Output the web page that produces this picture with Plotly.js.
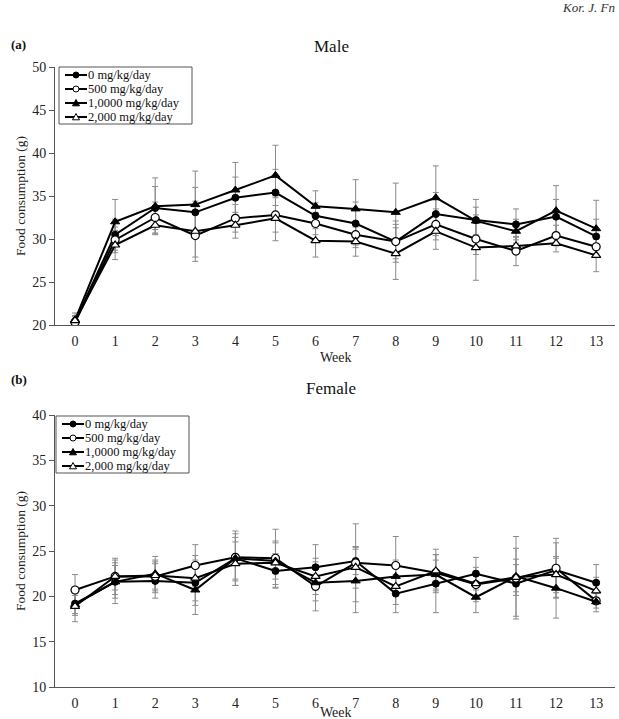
<!DOCTYPE html>
<html>
<head>
<meta charset="utf-8">
<script src="https://cdn.plot.ly/plotly-3.0.1.min.js"></script>
<style>
  html, body { margin: 0; padding: 0; background: #fff; }
  #chart { width: 619px; height: 719px; }
</style>
</head>
<body>
<div id="chart"></div>
<script>
// Weekly food consumption (g), mean ± SD, by dose group
const weeks = [0, 1, 2, 3, 4, 5, 6, 7, 8, 9, 10, 11, 12, 13];
const doseLabels = ['0 mg/kg/day', '500 mg/kg/day', '1,0000 mg/kg/day', '2,000 mg/kg/day'];

// Male
const maleD0       = [20.4, 30.5, 33.6, 33.1, 34.8, 35.4, 32.7, 31.8, 29.7, 32.9, 32.2, 31.7, 32.6, 30.3];
const maleD0Err    = [0.6, 1.8, 2.5, 2.9, 2.4, 2.7, 1.5, 2.5, 2.0, 2.5, 2.4, 1.8, 2.0, 2.0];
const maleD500     = [20.3, 29.9, 32.5, 30.4, 32.4, 32.8, 31.8, 30.5, 29.7, 31.7, 30.0, 28.6, 30.4, 29.1];
const maleD500Err  = [0.5, 1.5, 1.8, 2.5, 1.6, 2.0, 1.3, 1.5, 2.4, 1.8, 1.8, 1.7, 1.2, 1.2];
const maleD1000    = [20.6, 32.0, 33.8, 34.0, 35.7, 37.4, 33.8, 33.5, 33.1, 34.8, 32.1, 30.9, 33.3, 31.2];
const maleD1000Err = [0.8, 2.6, 3.3, 3.9, 3.2, 3.5, 1.8, 3.4, 3.4, 3.7, 1.6, 1.4, 2.9, 3.3];
const maleD2000    = [20.5, 29.3, 31.6, 30.9, 31.6, 32.4, 29.8, 29.7, 28.3, 30.9, 29.0, 29.2, 29.5, 28.1];
const maleD2000Err = [0.6, 1.7, 1.0, 3.5, 1.5, 2.6, 1.9, 1.7, 3.0, 2.1, 3.8, 1.0, 1.0, 1.9];

// Female
const femD0       = [19.2, 21.6, 21.7, 21.5, 24.2, 22.8, 23.2, 23.9, 20.3, 21.4, 22.5, 21.4, 22.9, 21.5];
const femD0Err    = [1.3, 2.4, 1.9, 2.5, 2.3, 1.9, 2.5, 1.5, 2.1, 3.2, 1.8, 3.9, 3.0, 2.0];
const femD500     = [20.7, 22.2, 22.2, 23.4, 24.3, 24.2, 21.1, 23.7, 23.4, 22.6, 21.3, 22.0, 23.1, 19.5];
const femD500Err  = [1.7, 2.0, 1.8, 2.3, 2.6, 3.2, 2.7, 4.3, 3.2, 2.0, 1.9, 1.5, 3.3, 0.8];
const femD1000    = [19.1, 21.6, 22.5, 20.7, 24.2, 23.9, 21.5, 21.7, 22.2, 22.4, 19.9, 22.2, 20.9, 19.4];
const femD1000Err = [1.0, 1.8, 1.9, 2.7, 3.0, 2.0, 2.0, 3.5, 1.8, 1.6, 1.7, 4.4, 3.3, 1.1];
const femD2000    = [18.9, 22.2, 22.3, 22.0, 23.6, 23.7, 22.2, 23.2, 21.1, 22.8, 21.4, 22.1, 22.4, 20.6];
const femD2000Err = [1.7, 1.5, 1.5, 2.5, 2.4, 2.4, 2.0, 2.3, 2.0, 2.4, 1.4, 2.0, 2.0, 1.5];

const SERIF = '"Liberation Serif", "Times New Roman", Times, serif';

const markerStyles = [
  { symbol: 'circle', size: 7, color: '#000', line: { color: '#000', width: 1 } },
  { symbol: 'circle', size: 8, color: '#fff', line: { color: '#000', width: 1.2 } },
  { symbol: 'triangle-up', size: 8, color: '#000', line: { color: '#000', width: 1 } },
  { symbol: 'triangle-up', size: 8, color: '#fff', line: { color: '#000', width: 1.2 } }
];

const maleSets = [[maleD0, maleD0Err], [maleD500, maleD500Err], [maleD1000, maleD1000Err], [maleD2000, maleD2000Err]];
const femSets  = [[femD0, femD0Err], [femD500, femD500Err], [femD1000, femD1000Err], [femD2000, femD2000Err]];

const traces = [];

// error bars underneath the lines
function addErrorTraces(sets, xa, ya) {
  sets.forEach(([vals, errs]) => {
    traces.push({
      x: weeks, y: vals, xaxis: xa, yaxis: ya,
      type: 'scatter', mode: 'lines',
      line: { color: 'rgba(0,0,0,0)', width: 0 },
      hoverinfo: 'skip', showlegend: false,
      error_y: { type: 'data', array: errs, visible: true, color: '#8a8a8a', thickness: 1, width: 3 }
    });
  });
}

function addDataTraces(sets, xa, ya) {
  sets.forEach(([vals], i) => {
    traces.push({
      x: weeks, y: vals, xaxis: xa, yaxis: ya,
      type: 'scatter', mode: 'lines+markers',
      name: doseLabels[i], showlegend: false,
      line: { color: '#000', width: 2 },
      marker: markerStyles[i]
    });
  });
}

addErrorTraces(maleSets, 'x', 'y');
addErrorTraces(femSets, 'x2', 'y2');
addDataTraces(maleSets, 'x', 'y');
addDataTraces(femSets, 'x2', 'y2');

const W = 619, H = 719;
const px = v => v / W;
const py = v => 1 - v / H;

// Compact boxed key (tight rows, short line samples) drawn with shapes + annotations
const shapes = [];
const annotations = [];
function addKey(left, top) {
  const rowH = 14, boxW = 133, boxH = 57;
  shapes.push({ type: 'rect', xref: 'paper', yref: 'paper', layer: 'above',
    x0: px(left), x1: px(left + boxW), y0: py(top + boxH), y1: py(top),
    line: { color: '#555', width: 1 }, fillcolor: '#fff' });
  doseLabels.forEach((label, i) => {
    const cy = top + 8 + i * rowH;
    const cx = left + 17;
    const st = markerStyles[i];
    shapes.push({ type: 'line', xref: 'paper', yref: 'paper', layer: 'above',
      x0: px(left + 6), x1: px(left + 28), y0: py(cy), y1: py(cy),
      line: { color: '#000', width: 2 } });
    const r = st.symbol === 'circle' ? 3 : 3.5;
    if (st.symbol === 'circle') {
      shapes.push({ type: 'circle', xref: 'paper', yref: 'paper', layer: 'above',
        x0: px(cx - r), x1: px(cx + r), y0: py(cy + r), y1: py(cy - r),
        fillcolor: st.color, line: { color: '#000', width: 1 } });
    } else {
      const p = `M ${px(cx - r)} ${py(cy + r * 0.8)} L ${px(cx + r)} ${py(cy + r * 0.8)} L ${px(cx)} ${py(cy - r)} Z`;
      shapes.push({ type: 'path', xref: 'paper', yref: 'paper', layer: 'above', path: p,
        fillcolor: st.color, line: { color: '#000', width: 1 } });
    }
    annotations.push({ text: label, xref: 'paper', yref: 'paper', x: px(left + 28), y: py(cy),
      xanchor: 'left', yanchor: 'middle', showarrow: false, borderpad: 0,
      font: { family: SERIF, size: 12.5, color: '#111' } });
  });
}
addKey(59, 67);
addKey(56, 416);

const xBase = {
  domain: [px(55), px(615)],
  range: [-0.5, 13.47],
  tickvals: weeks,
  ticks: '',
  ticklabelstandoff: 3,
  showgrid: false, zeroline: false,
  showline: true, linecolor: '#555', linewidth: 1,
  tickfont: { family: SERIF, size: 14, color: '#222' }
};
const yBase = {
  dtick: 5,
  ticks: 'outside', ticklen: 5, tickcolor: '#555', tickwidth: 1,
  showgrid: false, zeroline: false,
  showline: true, linecolor: '#555', linewidth: 1,
  tickfont: { family: SERIF, size: 14, color: '#222' },
  title: { text: 'Food consumption (g)', font: { family: SERIF, size: 13.5, color: '#222' }, standoff: 3 }
};

annotations.push(
  { text: 'Week', xref: 'paper', yref: 'paper', x: px(336), y: py(357), xanchor: 'center', yanchor: 'middle',
    showarrow: false, borderpad: 0, font: { family: SERIF, size: 14, color: '#222' } },
  { text: 'Week', xref: 'paper', yref: 'paper', x: px(336), y: py(712), xanchor: 'center', yanchor: 'middle',
    showarrow: false, borderpad: 0, font: { family: SERIF, size: 14, color: '#222' } },
  { text: 'Male', xref: 'paper', yref: 'paper', x: px(331), y: py(46), xanchor: 'center', yanchor: 'middle',
    showarrow: false, font: { family: SERIF, size: 17, color: '#111' } },
  { text: 'Female', xref: 'paper', yref: 'paper', x: px(331), y: py(388), xanchor: 'center', yanchor: 'middle',
    showarrow: false, font: { family: SERIF, size: 17, color: '#111' } },
  { text: '<b>(a)</b>', xref: 'paper', yref: 'paper', x: px(9), y: py(44), xanchor: 'left', yanchor: 'middle',
    showarrow: false, font: { family: SERIF, size: 13, color: '#111' } },
  { text: '<b>(b)</b>', xref: 'paper', yref: 'paper', x: px(9), y: py(379), xanchor: 'left', yanchor: 'middle',
    showarrow: false, font: { family: SERIF, size: 13, color: '#111' } },
  { text: '<i>Kor. J. Fn</i>', xref: 'paper', yref: 'paper', x: px(617), y: py(7), xanchor: 'right', yanchor: 'middle',
    showarrow: false, font: { family: SERIF, size: 13, color: '#333' } }
);

const layout = {
  width: W, height: H,
  margin: { l: 0, r: 0, t: 0, b: 0 },
  paper_bgcolor: '#fff', plot_bgcolor: '#fff',
  showlegend: false,
  xaxis: Object.assign({}, xBase, { anchor: 'y' }),
  yaxis: Object.assign({}, yBase, { domain: [py(325), py(67)], range: [20, 50], anchor: 'x' }),
  xaxis2: Object.assign({}, xBase, { anchor: 'y2' }),
  yaxis2: Object.assign({}, yBase, { domain: [py(687), py(415)], range: [10, 40], anchor: 'x2' }),
  shapes: shapes,
  annotations: annotations
};

Plotly.newPlot('chart', traces, layout, { staticPlot: true, displayModeBar: false });
</script>
</body>
</html>
